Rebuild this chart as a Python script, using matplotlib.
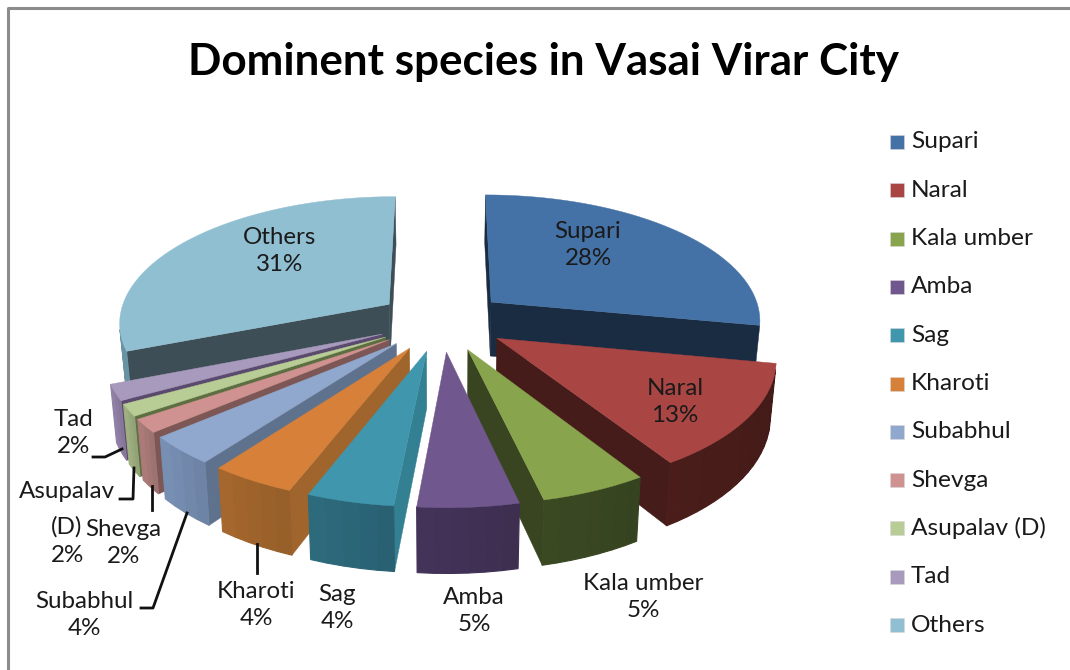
import numpy as np
import matplotlib
matplotlib.use('Agg')
import matplotlib.pyplot as plt
from matplotlib.patches import Polygon, Rectangle

plt.rcParams['font.family'] = ['Lato', 'DejaVu Sans']

species = ['Supari', 'Naral', 'Kala umber', 'Amba', 'Sag', 'Kharoti', 'Subabhul',
           'Shevga', 'Asupalav (D)', 'Tad', 'Others']
# the printed labels are rounded
shares = [28, 13, 5.4, 5.1, 4.4, 4.3, 3.6, 1.7, 1.5, 2, 31]

top_colors = ['#4472a6', '#a94543', '#88a44d', '#70578e', '#3f96ad', '#d6803a',
              '#91a8ce', '#cf9290', '#b8cc95', '#a89abc', '#91bfd2']
cut_colors = ['#1a2c42', '#451c1a', '#384520', '#40304f', '#338093', '#a0652c',
              '#5f728d', '#7c5755', '#5d6e41', '#5a4a6e', '#3d4e56']
rim_colors = ['#1a2c42', '#4a1d1a', '#3c4a23', '#45345a', '#2e6c7f', '#a8692e',
              '#7a93b8', '#b07f7d', '#a3b584', '#9584ab', '#74a3b5']

# text blocks of the data labels, centre of each one
label_text = ['Supari\n28%', 'Naral\n13%', 'Kala umber\n5%', 'Amba\n5%', 'Sag\n4%', 'Kharoti\n4%',
              'Subabhul\n4%', 'Shevga\n2%', 'Asupalav', '(D)\n2%', 'Tad\n2%', 'Others\n31%']
label_x = [588, 675, 643, 474, 337, 256, 84, 123, 67, 67, 73, 280]
label_y = [245, 402, 597, 611, 608, 605, 615, 543, 491, 541, 433, 251]

leaders = [
    [(93, 457), (105, 457), (122, 449)],
    [(120, 499), (133, 499), (134, 468)],
    [(152, 510), (152, 486)],
    [(141, 608), (153, 608), (187, 513)],
    [(257, 573), (257, 544)],
]

# camera of the 3d pie, in pixels
cx, cy = 442, 321
ax_x, ax_y = 271, 126
persp = 0.132
explode = 0.24
depth = 55
shrink = 0.982


def project(x, y, low=False):
    w = 1 + persp * y
    u = ax_x * x / w
    v = -ax_y * y / w
    if low:
        return cx + u * shrink, cy + v + depth / w
    return cx + u, cy + v


def area(pts):
    p = np.array(pts)
    return 0.5 * np.sum(p[:, 0] * np.roll(p[:, 1], -1) - np.roll(p[:, 0], -1) * p[:, 1])


def draw_slice(ax, start, end, top, cut, rim):
    mid = (start + end) / 2
    ox, oy = explode * np.sin(mid), explode * np.cos(mid)
    angles = np.linspace(start, end, max(int((end - start) * 24), 4))
    xs = ox + np.sin(angles)
    ys = oy + np.cos(angles)

    apex_t, apex_b = project(ox, oy), project(ox, oy, True)
    for k, sign in ((0, -1), (-1, 1)):
        pts = [apex_t, project(xs[k], ys[k]), project(xs[k], ys[k], True), apex_b]
        if area(pts) * sign > 0:
            ax.add_patch(Polygon(pts, fc=cut, ec=cut, lw=0.3))

    rgb = np.array(matplotlib.colors.to_rgb(rim))
    for i in range(len(angles) - 1):
        pts = [project(xs[i], ys[i]), project(xs[i + 1], ys[i + 1]),
               project(xs[i + 1], ys[i + 1], True), project(xs[i], ys[i], True)]
        if area(pts) < 0:
            # rim gets a little lighter towards its left end
            c = rgb * (0.9 + 0.1 * i / (len(angles) - 1))
            ax.add_patch(Polygon(pts, fc=c, ec=c, lw=0.8))

    outline = [apex_t] + [project(a, b) for a, b in zip(xs, ys)]
    ax.add_patch(Polygon(outline, fc=top, ec=top, lw=0.3))


fig = plt.figure(figsize=(10.7, 6.7), dpi=100)
ax = fig.add_axes([0, 0, 1, 1])
ax.set_xlim(0, 1070)
ax.set_ylim(670, 0)
ax.axis('off')

ax.plot([8, 8, 1070], [670, 8, 8], color='#8c8c8c', lw=2.2)

fracs = np.cumsum([0] + shares) / sum(shares) * 2 * np.pi
mids = (fracs[:-1] + fracs[1:]) / 2
# far slices first, near ones paint over them
for i in np.argsort(-np.cos(mids)):
    draw_slice(ax, fracs[i], fracs[i + 1], top_colors[i], cut_colors[i], rim_colors[i])

for pts in leaders:
    ax.plot([p[0] for p in pts], [p[1] for p in pts], color='#111111', lw=2)

for txt, x, y in zip(label_text, label_x, label_y):
    ax.text(x, y, txt, ha='center', va='center', fontsize=17.4, color='#1a1a1a', linespacing=1.4)

ax.text(544, 62, 'Dominent species in Vasai Virar City', ha='center', va='center',
        fontsize=31.7, fontweight='bold', color='black')

for i, name in enumerate(species):
    y = 142 + i * 48.3
    ax.add_patch(Rectangle((890, y - 7), 14, 14, fc=top_colors[i], ec='#d8d8d8', lw=0.4))
    ax.text(911, y, name, ha='left', va='center', fontsize=17.6, color='#1a1a1a')

fig.savefig('out.png', dpi=100)
